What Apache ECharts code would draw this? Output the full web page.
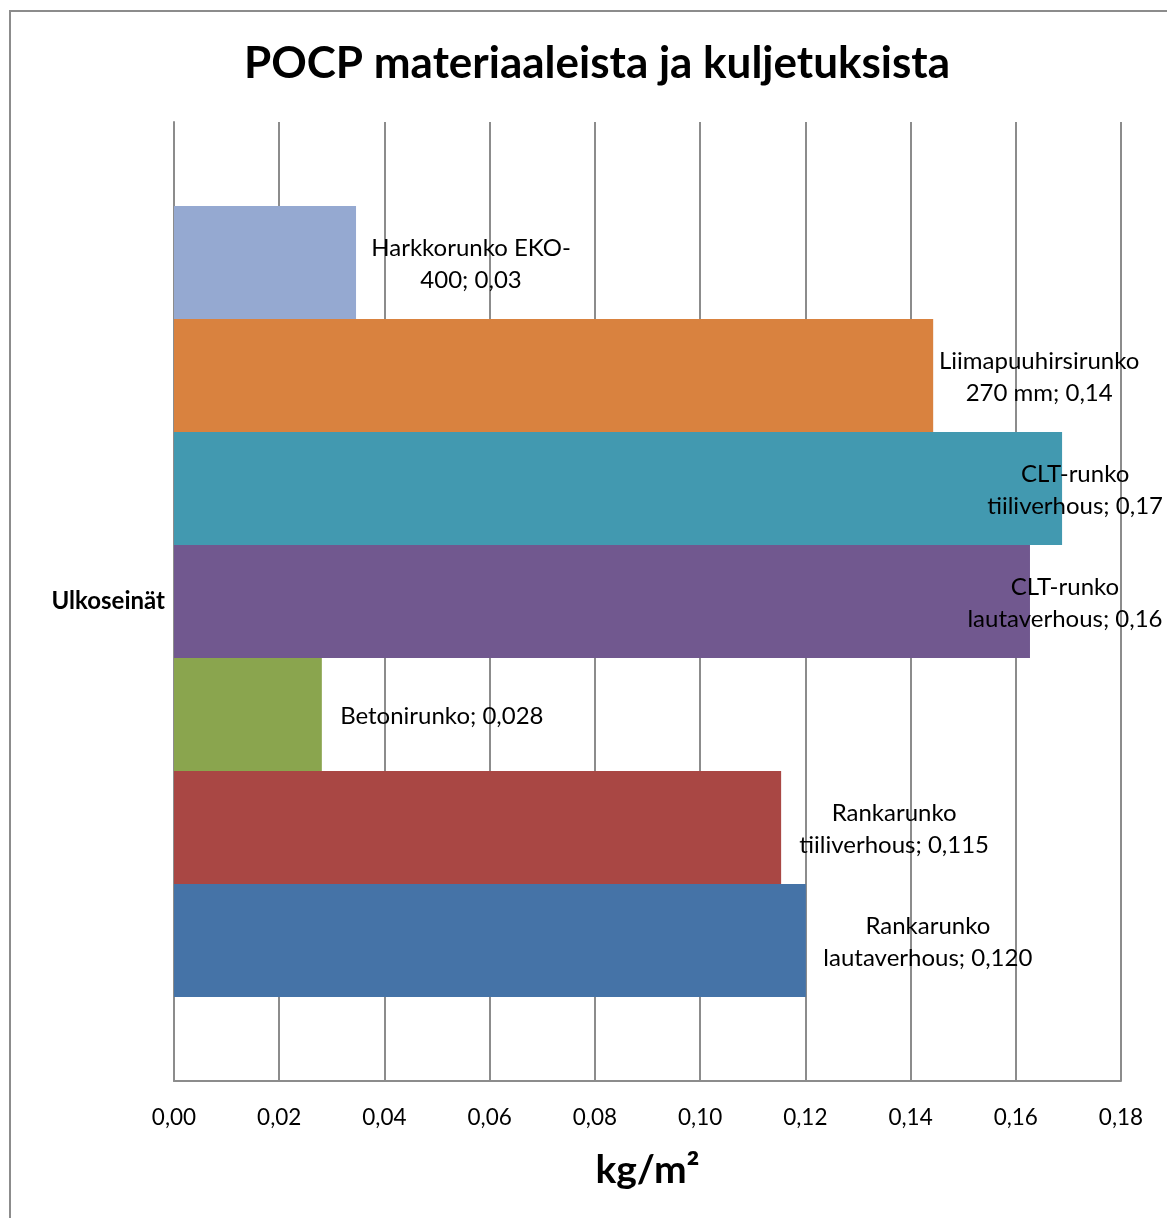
<!DOCTYPE html>
<html>
<head>
<meta charset="utf-8">
<script src="https://cdn.jsdelivr.net/npm/echarts@6/dist/echarts.min.js"></script>
<style>
  html, body { margin: 0; padding: 0; background: #fff; }
  #chart { width: 1167px; height: 1218px; }
</style>
</head>
<body>
<div id="chart"></div>
<script>
// data, listed from the top bar to the bottom bar
const categories = ['Ulkoseinät']
const seriesNames = [
  'Harkkorunko EKO-400',
  'Liimapuuhirsirunko 270 mm',
  'CLT-runko tiiliverhous',
  'CLT-runko lautaverhous',
  'Betonirunko',
  'Rankarunko tiiliverhous',
  'Rankarunko lautaverhous'
]
const seriesValues = [0.0346, 0.1443, 0.1688, 0.1627, 0.0281, 0.1154, 0.1201]
const labelTexts = [
  'Harkkorunko EKO-\n400; 0,03',
  'Liimapuuhirsirunko\n270 mm; 0,14',
  'CLT-runko\ntiiliverhous; 0,17',
  'CLT-runko\nlautaverhous; 0,16',
  'Betonirunko; 0,028',
  'Rankarunko\ntiiliverhous; 0,115',
  'Rankarunko\nlautaverhous; 0,120'
]
const xTicks = [0, 0.02, 0.04, 0.06, 0.08, 0.1, 0.12, 0.14, 0.16, 0.18]

const colors = ['#95a9d1', '#d9823f', '#4299b0', '#71588f', '#8aa54e', '#a94744', '#4573a7']
const labelShift = [115, 106, 13, 35, 120, 113, 122]

const font = 'Lato, "Open Sans", sans-serif'
const chart = echarts.init(document.getElementById('chart'))

chart.setOption({
  animation: false,
  title: {
    text: 'POCP materiaaleista ja kuljetuksista',
    left: 592,
    top: 37,
    textAlign: 'center',
    textStyle: { fontFamily: font, fontWeight: 'bold', fontSize: 44, color: '#000' }
  },
  graphic: [
    {
      type: 'rect',
      shape: { x: 10, y: 11, width: 1300, height: 1300 },
      style: { fill: 'none', stroke: '#8c8c8c', lineWidth: 2 },
      silent: true
    }
  ],
  grid: { left: 174, right: 46, top: 122, bottom: 137 },
  xAxis: {
    type: 'value',
    min: 0,
    max: 0.18,
    interval: 0.02,
    name: 'kg/m²',
    nameLocation: 'middle',
    nameGap: 70,
    nameTextStyle: { fontFamily: font, fontWeight: 'bold', fontSize: 39, color: '#000' },
    axisLine: { show: true, lineStyle: { color: '#8c8c8c', width: 2 } },
    axisTick: { show: false },
    axisLabel: {
      margin: 25,
      fontFamily: font,
      fontSize: 22.5,
      color: '#000',
      formatter: v => {
        const t = xTicks.find(x => Math.abs(x - v) < 1e-9)
        return (t === undefined ? v : t).toFixed(2).replace('.', ',')
      }
    },
    splitLine: { show: true, lineStyle: { color: '#8c8c8c', width: 2 } }
  },
  yAxis: {
    type: 'category',
    data: categories,
    axisLine: { show: true, lineStyle: { color: '#8c8c8c', width: 2 } },
    axisTick: { show: false },
    axisLabel: { margin: 9, fontFamily: font, fontWeight: 'bold', fontSize: 24, color: '#000' }
  },
  series: seriesNames.map((name, i) => ({
    name,
    type: 'bar',
    barGap: '0%',
    barCategoryGap: '17.5%',
    z: 3,
    itemStyle: { color: colors[i] },
    data: [seriesValues[i]],
    label: {
      show: true,
      position: 'right',
      distance: 0,
      align: 'center',
      offset: [labelShift[i], 2],
      formatter: () => labelTexts[i],
      fontFamily: font,
      fontSize: 24,
      lineHeight: 32,
      color: '#000'
    }
  }))
})
</script>
</body>
</html>
